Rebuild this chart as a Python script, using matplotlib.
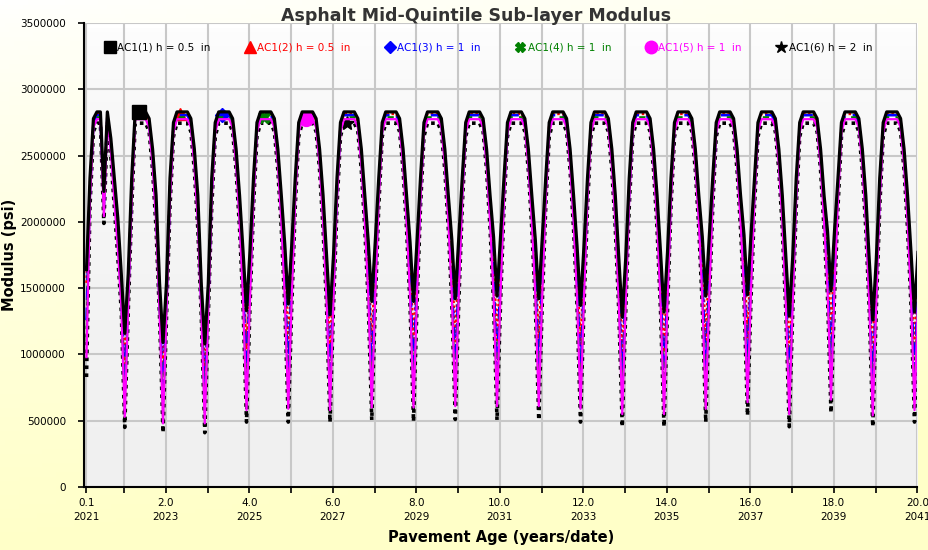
import numpy as np
import matplotlib.pyplot as plt
from matplotlib.lines import Line2D
from matplotlib.colors import LinearSegmentedColormap

# pavement age, one reading per month
n_months = 240
ages = 0.1 + np.arange(n_months) / 12.0

labels = ["AC1(1) h = 0.5  in", "AC1(2) h = 0.5  in", "AC1(3) h = 1  in",
          "AC1(4) h = 1  in", "AC1(5) h = 1  in", "AC1(6) h = 2  in"]

# winter plateau of each sub-layer (psi)
peak = [2830000, 2815000, 2805000, 2790000, 2775000, 2745000]

# summer low of each sub-layer, one per year (x1000 psi)
trough_k = [
    [1160, 1090, 1080, 1330, 1380, 1300, 1400, 1400, 1420, 1440,
     1420, 1370, 1280, 1320, 1440, 1450, 1290, 1480, 1260, 1320],
    [910, 850, 850, 1040, 1070, 1020, 1090, 1080, 1100, 1110,
     1100, 1060, 990, 1020, 1110, 1130, 1000, 1160, 980, 1030],
    [730, 680, 680, 830, 850, 810, 860, 860, 870, 880,
     870, 840, 790, 800, 870, 900, 790, 930, 780, 820],
    [610, 560, 560, 670, 690, 670, 700, 700, 710, 710,
     710, 680, 640, 650, 700, 740, 640, 760, 630, 670],
    [530, 480, 480, 580, 590, 580, 600, 600, 610, 610,
     610, 590, 550, 550, 590, 640, 550, 660, 540, 580],
    [450, 410, 410, 490, 490, 490, 505, 495, 510, 505,
     505, 490, 455, 455, 490, 540, 455, 560, 455, 490],
]
# month either side of the low sits this far above it (x1000 psi)
shoulder_k = [450, 620, 720, 790, 840, 880]
# how much deeper each layer dips on the way down/up, relative to AC1(1)
drop_scale = [1.0, 1.08, 1.14, 1.18, 1.22, 1.26]
# first reading of each series (x1000 psi)
start_k = [1640, 1540, 1260, 1100, 980, 830]

# drop below plateau for each calendar month (x1000 psi); "S" shoulder, "T" low
season = [500, 80, 0, 0, 0, 0, 50, 280, 630, "S", "T", "S"]
# opening months of the record
first_months = ["start", 500, 50, 0, 0, 600, 0, 200, 500, 800, "S", "T", "S", 500]

colors = ["black", "#ff0000", "#0000ff", "#008000", "#ff00ff", "black"]
styles = ["-", (0, (1, 1)), (0, (5, 3)), (0, (3, 3)), "-", (0, (1, 1.2))]
widths = [2.3, 1.8, 1.8, 1.5, 1.6, 2.6]
markers = ["s", "^", "D", "X", "o", "*"]
msizes = [10, 9, 7, 8, 10, 10]
layers = [10, 5, 6, 7, 8, 4]

fig = plt.figure(figsize=(9.29, 5.5), dpi=100)

# page background: white at the top to pale yellow below
bg = fig.add_axes([0, 0, 1, 1], zorder=-10)
gx, gy = np.meshgrid(np.linspace(0, 1, 200), np.linspace(0, 1, 120))
bg.imshow(np.clip(0.2 * gx + 1.0 * gy, 0, 1) ** 0.75, aspect="auto",
          cmap=LinearSegmentedColormap.from_list("pg", ["#ffffff", "#ffffc8"]),
          extent=[0, 1, 0, 1], origin="upper")
bg.axis("off")

ax = fig.add_axes([0.0904, 0.1145, 0.897, 0.8435])
ax.patch.set_alpha(0)
ax.imshow(np.linspace(0, 1, 100).reshape(-1, 1) ** 0.5, aspect="auto",
          cmap=LinearSegmentedColormap.from_list("pa", ["#ffffff", "#f0f0f0"]),
          extent=[0, 1, 0, 1], origin="upper", transform=ax.transAxes, zorder=0)

handles = []
for s in range(6):
    y = []
    for k in range(n_months):
        step = first_months[k] if k < len(first_months) else season[k % 12]
        low = trough_k[s][min(max((k - 4) // 12, 0), 19)]
        if step == "T":
            v = low * 1000
        elif step == "S":
            v = (low + shoulder_k[s]) * 1000
        elif step == "start":
            v = start_k[s] * 1000
        else:
            v = peak[s] - step * drop_scale[s] * 1000
        y.append(v)
    ax.plot(ages, y, color=colors[s], ls=styles[s], lw=widths[s], zorder=layers[s],
            marker=markers[s], ms=msizes[s], markevery=[15 + 12 * s])
    handles.append(Line2D([], [], color=colors[s], ls="none", marker=markers[s],
                          ms=msizes[s] - 1))

ax.set_xlim(0.04, 20.0)
ax.set_ylim(0, 3500000)
years = [0.1] + list(range(2, 21, 2))
ax.set_xticks(years)
ax.set_xticklabels([f"{a:.1f}\n{2021 + int(a)}" for a in years], fontsize=7.5,
                   linespacing=1.5)
ax.set_xticks(range(1, 20, 2), minor=True)
ax.set_yticks(range(0, 3500001, 500000))
ax.set_yticklabels([str(v) for v in range(0, 3500001, 500000)], fontsize=7.5)
ax.tick_params(axis="x", which="both", length=4, width=1.2, pad=4)
ax.tick_params(axis="y", length=4, width=1.2, pad=9)
ax.grid(which="both", color="#c8c8c8", lw=1.5)

for side in ["top", "right"]:
    ax.spines[side].set_visible(False)
for side in ["left", "bottom"]:
    ax.spines[side].set_linewidth(1.5)

leg = ax.legend(handles, labels, ncol=6, loc="upper left", frameon=False,
                bbox_to_anchor=(0.012, 0.978), fontsize=7.5, labelcolor="linecolor",
                handletextpad=0.1, columnspacing=3.2, handlelength=1.2)

fig.text(476 / 929, 1 - 16 / 550, "Asphalt Mid-Quintile Sub-layer Modulus",
         ha="center", va="center", fontsize=12.5, fontweight="bold", color="#333333")
ax.set_xlabel("Pavement Age (years/date)", fontsize=10.5, fontweight="bold", labelpad=6)
ax.set_ylabel("Modulus (psi)", fontsize=10.5, fontweight="bold", labelpad=2)

plt.savefig("out.png", dpi=100)
